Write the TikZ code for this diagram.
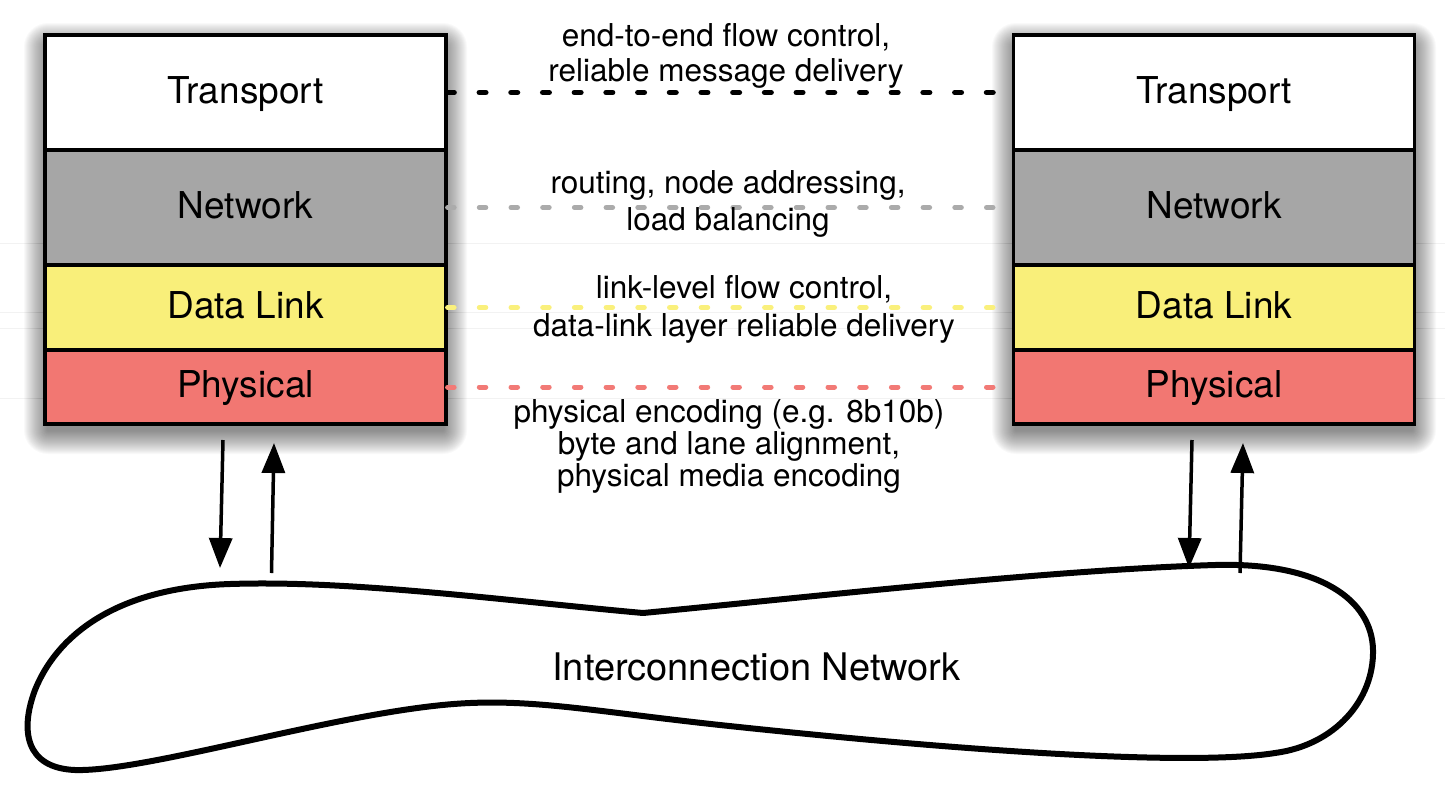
\documentclass[tikz,border=0pt]{standalone}
\usepackage{fontspec}
\setmainfont{TeX Gyre Heros}
\usetikzlibrary{arrows.meta}
\definecolor{netgray}{HTML}{A6A6A6}
\definecolor{dlyellow}{HTML}{F9EF7A}
\definecolor{phred}{HTML}{F27772}
\definecolor{dotgray}{HTML}{ABABAB}
\definecolor{dotyellow}{HTML}{FAF07C}
\definecolor{dotred}{HTML}{F27A76}
\definecolor{faint}{HTML}{F2F2F2}
\begin{document}
\begin{tikzpicture}[x=1pt,y=-1pt,
  layerbox/.style={draw=black, line width=3.2pt, minimum width=401pt, inner sep=0pt,
    text height=27.75pt, text depth=6.66pt, font=\fontsize{37}{40}\selectfont},
  dotline/.style={line width=5.5pt, line cap=round, dash pattern=on 6.5pt off 25.2pt, shorten >=13pt},
  desc/.style={align=center, anchor=base},
  arr/.style={line width=3.5pt, -{Triangle[length=30pt,width=23pt]}},
  blob/.style={draw=black, line width=6pt, line join=round}
]
\useasboundingbox (0,0) rectangle (1445,793);
% faint background rules
\foreach \yy in {243,312,328,398} \draw[faint, line width=1pt] (0,\yy) -- (1445,\yy);
% shadows
\foreach \xa/\xb in {45/446,1013/1415}{
  \foreach \i in {1,...,24}{
    \fill[black, opacity=0.024, rounded corners=\i pt] (\xa-\i+3,35-\i+12) rectangle (\xb+\i-3,424+\i+6);
  }
}
% left stack
\node[layerbox, fill=white,    minimum height=115pt] (LT) at (245.5,92.5) {Transport};
\node[layerbox, fill=netgray,  minimum height=115pt] (LN) at (245.5,207.5) {Network};
\node[layerbox, fill=dlyellow, minimum height=85pt]  (LD) at (245.5,307.5) {Data Link};
\node[layerbox, fill=phred,    minimum height=74pt]  (LP) at (245.5,387) {Physical};
% right stack
\node[layerbox, fill=white,    minimum height=115pt] (RT) at (1214,92.5) {Transport};
\node[layerbox, fill=netgray,  minimum height=115pt] (RN) at (1214,207.5) {Network};
\node[layerbox, fill=dlyellow, minimum height=85pt]  (RD) at (1214,307.5) {Data Link};
\node[layerbox, fill=phred,    minimum height=74pt]  (RP) at (1214,387) {Physical};
% dotted peer connections
\draw[dotline, black] (LT.east) -- (RT.west);
\draw[dotline, dotgray, line width=5pt] (LN.east) -- (RN.west);
\draw[dotline, dotyellow, line width=5pt] (LD.east) -- (RD.west);
\draw[dotline, dotred, line width=5pt] (LP.east) -- (RP.west);
% descriptions
\node[desc, font=\fontsize{31.5}{35}\selectfont] (d1) at (726,81.7) {end-to-end flow control,\\reliable message delivery};
\node[desc, font=\fontsize{31.5}{37}\selectfont] (d2) at (728,230) {routing, node addressing,\\load balancing};
\node[desc, font=\fontsize{31.5}{38}\selectfont] (d3) at (744,336) {link-level flow control,\\data-link layer reliable delivery};
\node[desc, font=\fontsize{31.5}{32}\selectfont] (d4) at (729,486) {physical encoding (e.g. 8b10b)\\byte and lane alignment,\\physical media encoding};
% interconnection network
\draw[blob] (643,613) .. controls (820,596) and (1050,570) .. (1215,565)
  .. controls (1320,562) and (1372,600) .. (1373,650)
  .. controls (1374,700) and (1335,745) .. (1275,753)
  .. controls (1200,765) and (1000,755) .. (720,725)
  .. controls (600,712) and (540,700) .. (470,703)
  .. controls (350,708) and (150,772) .. (75,770)
  .. controls (25,768) and (20,730) .. (35,690)
  .. controls (55,640) and (110,588) .. (230,584)
  .. controls (350,580) and (500,600) .. (643,613) -- cycle;
\node[anchor=base, font=\fontsize{38}{40}\selectfont] (icn) at (756.5,680) {Interconnection Network};
% arrows
\coordinate (a1) at (223,440); \coordinate (a2) at (220,568);
\coordinate (a3) at (271.5,573); \coordinate (a4) at (274,443);
\coordinate (b1) at (1192,440); \coordinate (b2) at (1189,568);
\coordinate (b3) at (1240,573); \coordinate (b4) at (1243,443);
\draw[arr] (a1) -- (a2);
\draw[arr] (a3) -- (a4);
\draw[arr] (b1) -- (b2);
\draw[arr] (b3) -- (b4);
\end{tikzpicture}
\end{document}
